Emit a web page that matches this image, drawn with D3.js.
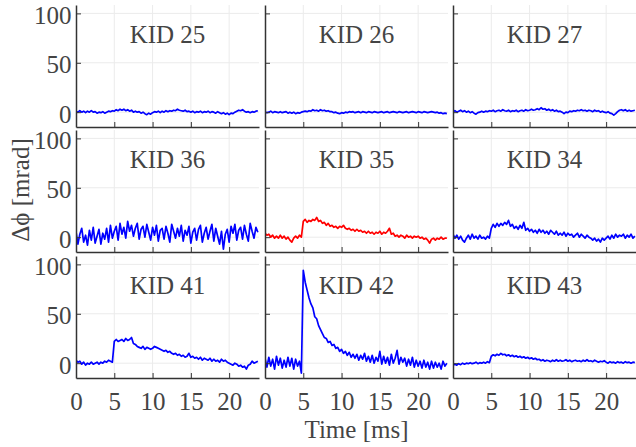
<!DOCTYPE html>
<html>
<head>
<meta charset="utf-8">
<script src="https://cdn.jsdelivr.net/npm/d3@7/dist/d3.min.js"></script>
<style>
  html, body { margin: 0; padding: 0; background: #fff; }
  svg { display: block; }
</style>
</head>
<body>
<svg id="chart" width="636" height="447"></svg>
<script>
// ---------------- data ----------------
const dt = 0.25; // ms between samples
const xTicks = [0, 5, 10, 15, 20];
const yTicks = [0, 50, 100];
const xLabel = "Time [ms]";
const yLabel = "Δϕ [mrad]";
const kidNames = ["KID 25", "KID 26", "KID 27", "KID 36", "KID 35", "KID 34", "KID 41", "KID 42", "KID 43"];
const highlightKid = "KID 35";

const kid25 = [1,0,1.5,0,1,-0.5,1,0, 1.5,0,0.5,-1,0,-0.5,0.5,-1, 0,1,0.5,1.5,1,2.5,1.5,3, 2,3,1.5,2.5,1,2,0,1,
  0,0.5,-1,0,-1.5,-2.5,-1,-2, -0.5,0.5,0,1,-0.5,1,0,1.5, 0.5,1.5,1,2,1.5,3,2,1.5, 1,2,0.5,1,0,1,-0.5,0.5,
  0,1,-0.5,0.5,0,1,-0.5,0.5, 0,-1,0.5,-0.5,-1.5,-0.5,-2,-1, -2.5,-1,-1.5,0,1,2,1.5,2.5, 1,0,0.5,-0.5,0.5,0,1,1.5];
const kid26 = [0.5,-0.5,0,1,-0.5,0.5,0,-0.5, 0.5,-0.5,0,0.5,-1,0,-1,0, -1.5,-0.5,-1,0,0.5,1,0.5,1.5, 1,2.5,1.5,2,1,2.5,1.5,2,
  1,1.5,0.5,0.5,-0.5,0,-1,-1.5, -0.5,-1,0,-0.5,0.5,0,0.5,-0.5, 0,0.5,-0.5,0.5,0,-0.5,0.5,0, -0.5,0.5,0,-0.5,0,0.5,-0.5,0,
  0.5,-0.5,0,0.5,0,-0.5,0.5,0, -0.5,0,0.5,-0.5,0,0.5,0,-0.5, 0.5,0,-0.5,0.5,0,-0.5,0,0.5, 0,-0.5,0,-1,-0.5,-1.5,-1,-1.5];
const kid27 = [0,1.5,0,1,2,0.5,1.5,0, 1,-0.5,0.5,-1,-2,-0.5,0,1, 0,1,0.5,1.5,1,2,0.5,1.5, 2,1,2.5,1.5,1,2,0.5,1.5,
  1,2,0.5,1.5,2,1,2.5,1.5, 2,3,2,2.5,3.5,2.5,4.5,3, 3.5,2,3,1.5,2.5,1,2,0.5, 1,0,-1.5,0,-0.5,1,0.5,1.5,
  1,2,1.5,2.5,1.5,2,1,2, 1.5,0.5,2,1,1.5,0,1,0, -0.5,0.5,-1,-1.5,-3,-1.5,0.5,2, 2.5,1.5,2.5,1,2,1,1.5,2];
const kid36 = [6,-7,3,9,-5,2,-8,7, -3,10,-6,1,8,-7,4,-2, 9,-5,12,-1,6,11,-3,14, 3,10,-1,16,6,12,1,9,
  14,-2,8,11,0,13,5,-3, 10,2,12,-4,7,9,-2,11, 4,-5,13,6,-1,9,1,12, -4,7,2,11,-6,5,9,-3,
  8,12,-5,4,10,-2,6,13, -4,9,1,-7,6,-12,3,8, -5,11,4,13,-3,7,10,-2, 12,3,-4,14,6,-1,10,5];
const kid35 = [4,2,3,0,2,-1,1,-1, 2,-1,1,-2,0,-3,-5,-1, 1,-1,2,0,16,18,15,17, 16,18,17,20,16,17,14,15,
  12,14,11,12,10,11,9,11, 10,12,9,8,9,7,8,6, 8,6,7,5,6,4,6,4, 5,3,5,4,6,3,5,4,
  6,9,3,4,1,2,0,2, 1,-1,2,0,1,-1,1,0, 1,-1,0,-2,-1,-3,-6,-2, -1,-3,-1,-2,0,-2,-1,-1];
const kid34 = [3,-1,2,-2,1,-3,-5,-1, 2,-2,3,-1,1,-2,2,-1, 0,-2,1,-1,9,13,10,14, 11,14,12,15,13,17,11,13,
  9,11,8,12,9,15,7,9, 6,8,5,7,4,8,5,7, 4,6,3,7,5,3,6,2, 4,2,5,1,4,2,3,0,
  2,4,0,3,1,-1,2,0, -1,-3,-1,-4,-2,-5,-1,-3, -1,1,-2,2,-1,3,0,2, 1,3,-1,2,0,3,-1,1];
const kid41 = [3,1,2,-1,1,-2,0,-1, 1,-1,0,1,-1,1,0,2, 1,3,2,1,22,24,22,23, 24,22,25,23,24,26,20,19,
  17,16,15,17,14,16,15,14, 15,17,16,15,14,13,12,13, 11,12,10,9,10,8,9,7, 8,6,7,10,6,7,5,6,
  4,6,3,5,4,3,5,2, 4,2,3,1,4,2,3,1, 0,-1,-2,0,-1,-3,-2,-4, -3,-6,-2,-1,2,0,1,2];
const kid42 = [5,-4,6,-3,4,-6,7,-2, 5,-5,3,-4,6,-3,5,-6, 4,-3,2,-10,94,82,74,66, 60,56,47,45,38,34,30,26,
  25,21,22,18,19,15,16,12, 14,10,12,8,11,6,9,5, 9,3,8,4,10,2,7,1, 8,0,6,2,12,-1,7,0,
  6,-2,9,0,5,13,-1,6, 1,5,-3,4,-2,6,-4,3, -3,2,-5,3,-4,1,-6,2, -5,1,-4,0,-6,2,-3,0];
const kid43 = [-2,-1,-2,-0.5,-1.5,0,-1,0, -0.5,0.5,-0.5,0,1,-0.5,0.5,0, 1,0,1.5,0.5,7,8.5,7.5,9, 8,10,8.5,9,7.5,8.5,7,8,
  6.5,7.5,6,7,5.5,6.5,5,6, 4.5,5.5,4,5,3.5,4,2.5,3.5, 2,3,2.5,1.5,3,2,3.5,2, 3,2,2.5,3.5,2,3,1.5,2.5,
  3,2,2.5,1.5,3,2,3.5,2, 2.5,1.5,3,2,1,2,1.5,2.5, 1,0,1.5,0.5,1,0,1.5,0.5, 1,0,1.5,0.5,1,0,1,0.5];

const kidSeries = [kid25, kid26, kid27, kid36, kid35, kid34, kid41, kid42, kid43];

// ---------------- layout ----------------
const svg = d3.select("#chart");
const colX = [76, 265, 453];
const rowY = [5, 130, 256];
const pw = 183, ph = 122;
const textColor = "#444";
const axisColor = "#333";
const gridColor = "#ebebeb";
const fontFamily = "'Liberation Serif', 'DejaVu Serif', serif";

const x = d3.scaleLinear().domain([0, 23.9]).range([0, pw]);
const y = d3.scaleLinear().domain([-15, 108.5]).range([ph, 0]);

const defs = svg.append("defs");

kidNames.forEach((name, k) => {
  const r = Math.floor(k / 3), c = k % 3;
  const g = svg.append("g").attr("transform", `translate(${colX[c]},${rowY[r]})`);

  defs.append("clipPath").attr("id", "clip" + k)
    .append("rect").attr("x", 0).attr("y", 0).attr("width", pw).attr("height", ph);

  // grid
  g.selectAll(".gx").data(xTicks.filter(t => t > 0)).enter().append("line")
    .attr("x1", d => x(d)).attr("x2", d => x(d)).attr("y1", 0).attr("y2", ph)
    .attr("stroke", gridColor).attr("stroke-width", 1);
  g.selectAll(".gy").data(yTicks).enter().append("line")
    .attr("x1", 0).attr("x2", pw).attr("y1", d => y(d)).attr("y2", d => y(d))
    .attr("stroke", gridColor).attr("stroke-width", 1);

  // title
  g.append("text").attr("x", pw / 2).attr("y", 38)
    .attr("text-anchor", "middle").attr("font-family", fontFamily)
    .attr("font-size", 25).attr("fill", textColor).text(name);

  // trace
  const line = d3.line().x((d, i) => x(i * dt)).y(d => y(d));
  g.append("path").datum(kidSeries[k])
    .attr("clip-path", `url(#clip${k})`)
    .attr("d", line).attr("fill", "none")
    .attr("stroke", name === highlightKid ? "#ff0000" : "#0000ff")
    .attr("stroke-width", 1.7).attr("stroke-linejoin", "round");

  // axes (inward ticks)
  const xAxis = d3.axisBottom(x).tickValues(xTicks).tickSizeInner(-5).tickSizeOuter(0)
    .tickFormat(r === 2 ? d3.format("d") : () => "");
  const gx = g.append("g").attr("transform", `translate(0,${ph})`).call(xAxis);
  const yAxis = d3.axisLeft(y).tickValues(yTicks).tickSizeInner(-5).tickSizeOuter(0)
    .tickFormat(c === 0 ? d3.format("d") : () => "");
  const gy = g.append("g").call(yAxis);

  [gx, gy].forEach(a => {
    a.select(".domain").attr("stroke", axisColor).attr("stroke-width", 1.5);
    a.selectAll(".tick line").attr("stroke", axisColor).attr("stroke-width", 1);
    a.selectAll(".tick text").attr("fill", textColor)
      .attr("font-family", fontFamily).attr("font-size", 25);
  });
  gx.selectAll(".tick text").attr("y", 0).attr("dy", 0).attr("transform", "translate(0,32)");
  gy.selectAll(".tick text").attr("x", -4.5).attr("dy", "0.4em");
});

// axis labels
svg.append("text").attr("x", (colX[1] + colX[1] + pw) / 2).attr("y", 438)
  .attr("text-anchor", "middle").attr("font-family", fontFamily)
  .attr("font-size", 25).attr("fill", textColor).text(xLabel);
svg.append("text").attr("transform", "translate(29,190) rotate(-90)")
  .attr("text-anchor", "middle").attr("font-family", fontFamily)
  .attr("font-size", 25).attr("fill", textColor).text(yLabel);
</script>
</body>
</html>
